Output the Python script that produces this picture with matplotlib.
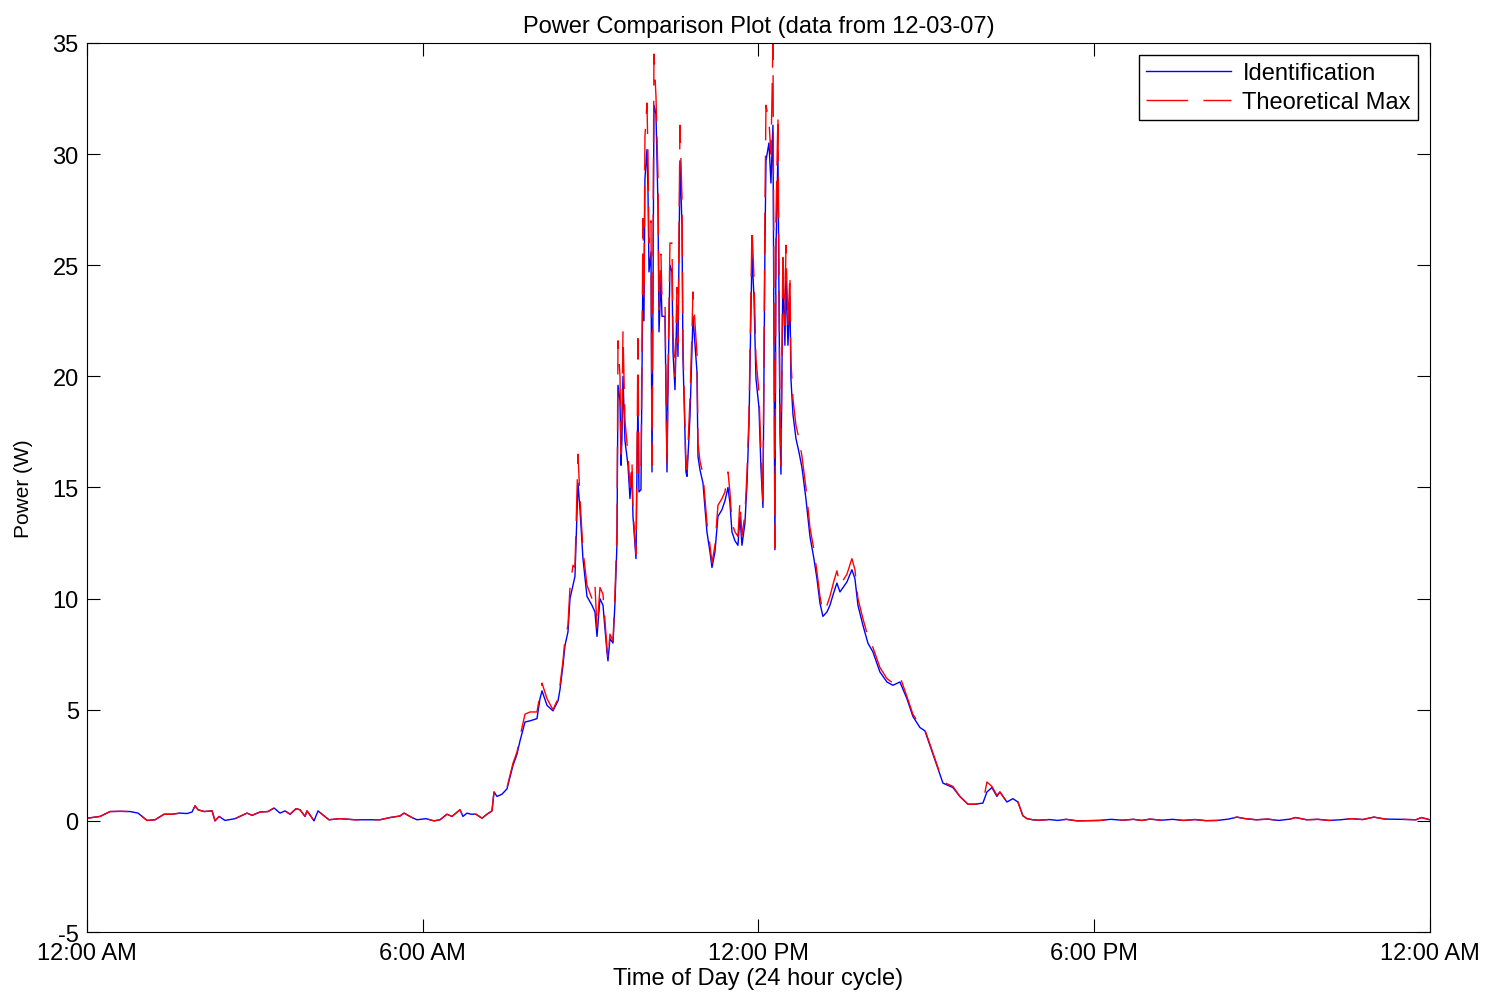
import numpy as np
import matplotlib.pyplot as plt

plt.rcParams['font.family'] = ['Liberation Sans', 'DejaVu Sans']
plt.rcParams['axes.unicode_minus'] = False

# time of day in hours
hours = [
    0.000, 0.232, 0.411, 0.590, 0.768, 0.911, 1.072, 1.215, 1.376, 1.519,
    1.662, 1.787, 1.876, 1.930, 1.984, 2.091, 2.234, 2.287, 2.359, 2.466,
    2.645, 2.859, 2.949, 3.092, 3.234, 3.342, 3.449, 3.538, 3.628, 3.735,
    3.806, 3.896, 3.931, 4.003, 4.056, 4.128, 4.199, 4.324, 4.521, 4.789,
    5.057, 5.236, 5.415, 5.593, 5.665, 5.808, 5.897, 6.058, 6.201, 6.308,
    6.433, 6.522, 6.594, 6.665, 6.719, 6.790, 6.862, 6.951, 7.059, 7.148,
    7.237, 7.273, 7.327, 7.416, 7.505, 7.613, 7.684, 7.738, 7.827, 7.916,
    8.041, 8.095, 8.131, 8.220, 8.327, 8.417, 8.452, 8.506, 8.542, 8.595,
    8.631, 8.685, 8.720, 8.774, 8.810, 8.863, 8.935, 9.024, 9.078, 9.114,
    9.167, 9.221, 9.292, 9.310, 9.346, 9.400, 9.435, 9.471, 9.489, 9.525,
    9.543, 9.560, 9.578, 9.614, 9.668, 9.703, 9.739, 9.757, 9.811, 9.828,
    9.846, 9.864, 9.900, 9.918, 9.936, 9.953, 9.971, 10.007, 10.025, 10.043,
    10.079, 10.097, 10.114, 10.132, 10.168, 10.204, 10.222, 10.257, 10.275, 10.329,
    10.365, 10.382, 10.418, 10.454, 10.472, 10.508, 10.543, 10.561, 10.597, 10.633,
    10.650, 10.704, 10.722, 10.776, 10.811, 10.829, 10.901, 10.919, 10.954, 11.008,
    11.079, 11.133, 11.169, 11.222, 11.276, 11.347, 11.401, 11.455, 11.490, 11.526,
    11.580, 11.633, 11.669, 11.705, 11.758, 11.794, 11.830, 11.884, 11.919, 11.955,
    12.009, 12.044, 12.080, 12.116, 12.134, 12.187, 12.223, 12.259, 12.294, 12.312,
    12.348, 12.384, 12.402, 12.437, 12.473, 12.491, 12.527, 12.562, 12.580, 12.616,
    12.670, 12.723, 12.777, 12.848, 12.920, 12.991, 13.045, 13.099, 13.152, 13.224,
    13.277, 13.349, 13.402, 13.456, 13.581, 13.670, 13.724, 13.778, 13.867, 13.956,
    14.046, 14.171, 14.296, 14.403, 14.528, 14.653, 14.760, 14.886, 14.975, 15.064,
    15.189, 15.297, 15.475, 15.600, 15.743, 15.868, 16.011, 16.083, 16.172, 16.262,
    16.315, 16.440, 16.547, 16.637, 16.726, 16.798, 16.905, 17.000, 17.200, 17.350,
    17.500, 17.700, 17.900, 18.100, 18.300, 18.500, 18.700, 18.850, 19.000, 19.200,
    19.400, 19.600, 19.800, 20.000, 20.200, 20.400, 20.550, 20.700, 20.900, 21.100,
    21.300, 21.500, 21.600, 21.800, 22.000, 22.200, 22.400, 22.600, 22.800, 23.000,
    23.200, 23.500, 23.750, 23.850, 24.000,
]

identification = [
    0.12, 0.20, 0.42, 0.43, 0.42, 0.35, 0.02, 0.05, 0.30, 0.30,
    0.35, 0.33, 0.40, 0.68, 0.50, 0.42, 0.45, 0.00, 0.20, 0.02,
    0.10, 0.35, 0.25, 0.40, 0.42, 0.58, 0.35, 0.45, 0.30, 0.55,
    0.50, 0.20, 0.45, 0.20, 0.00, 0.45, 0.30, 0.05, 0.10, 0.05,
    0.05, 0.05, 0.15, 0.22, 0.35, 0.15, 0.05, 0.10, 0.00, 0.05,
    0.30, 0.20, 0.35, 0.50, 0.20, 0.35, 0.30, 0.30, 0.12, 0.30,
    0.45, 1.30, 1.10, 1.20, 1.44, 2.50, 3.00, 3.60, 4.45, 4.50,
    4.60, 5.50, 5.85, 5.20, 4.95, 5.40, 5.90, 7.00, 7.90, 8.50,
    10.0, 10.6, 11.0, 15.2, 14.0, 11.8, 10.1, 9.70, 9.40, 8.30,
    10.0, 9.70, 7.60, 7.20, 8.20, 8.00, 9.80, 12.5, 19.6, 18.9,
    16.0, 17.2, 20.0, 17.1, 16.0, 14.5, 15.7, 13.7, 11.8, 15.7,
    19.0, 14.8, 14.9, 20.2, 25.3, 22.5, 28.9, 30.2, 28.4, 24.7,
    25.6, 15.7, 23.2, 32.2, 31.8, 27.7, 22.0, 24.4, 22.7, 22.7,
    15.7, 19.3, 25.0, 24.7, 21.1, 19.4, 23.2, 20.9, 29.7, 26.8,
    20.9, 15.7, 15.5, 18.2, 21.1, 22.7, 20.2, 16.4, 15.8, 15.2,
    13.0, 12.1, 11.4, 12.1, 13.7, 14.0, 14.4, 15.0, 14.3, 13.0,
    12.6, 12.4, 13.7, 12.4, 13.4, 15.1, 17.8, 25.5, 23.6, 19.9,
    18.6, 15.9, 14.1, 25.9, 29.7, 30.5, 28.7, 31.3, 12.2, 25.6,
    30.1, 17.5, 15.6, 24.8, 21.4, 24.5, 21.4, 23.6, 19.9, 18.3,
    17.2, 16.6, 15.9, 14.5, 12.8, 11.8, 10.9, 9.80, 9.20, 9.40,
    9.70, 10.3, 10.7, 10.3, 10.75, 11.3, 10.9, 9.70, 8.80, 8.00,
    7.60, 6.70, 6.25, 6.10, 6.25, 5.50, 4.70, 4.20, 4.05, 3.40,
    2.50, 1.70, 1.50, 1.10, 0.75, 0.75, 0.80, 1.30, 1.50, 1.10,
    1.30, 0.85, 1.00, 0.85, 0.23, 0.10, 0.05, 0.03, 0.06, 0.02,
    0.07, 0.00, 0.01, 0.02, 0.07, 0.03, 0.07, 0.02, 0.08, 0.03,
    0.07, 0.02, 0.06, 0.01, 0.02, 0.08, 0.17, 0.10, 0.05, 0.08,
    0.02, 0.08, 0.15, 0.05, 0.07, 0.02, 0.05, 0.10, 0.06, 0.17,
    0.08, 0.07, 0.05, 0.15, 0.05,
]

theoretical_max = [
    0.12, 0.20, 0.42, 0.43, 0.42, 0.35, 0.02, 0.05, 0.30, 0.30,
    0.35, 0.33, 0.40, 0.68, 0.50, 0.42, 0.45, 0.00, 0.20, 0.02,
    0.10, 0.35, 0.25, 0.40, 0.42, 0.58, 0.35, 0.45, 0.30, 0.55,
    0.50, 0.20, 0.45, 0.20, 0.00, 0.45, 0.30, 0.05, 0.10, 0.05,
    0.05, 0.05, 0.15, 0.22, 0.35, 0.15, 0.05, 0.10, 0.00, 0.05,
    0.30, 0.20, 0.35, 0.50, 0.20, 0.35, 0.30, 0.30, 0.12, 0.30,
    0.45, 1.30, 1.20, 1.30, 1.50, 2.60, 3.10, 3.80, 4.80, 4.90,
    4.90, 5.70, 6.20, 5.50, 5.00, 5.50, 6.10, 7.20, 8.20, 8.80,
    10.5, 11.5, 11.4, 16.5, 14.5, 12.2, 10.6, 10.0, 10.6, 8.60,
    10.5, 10.2, 7.80, 7.30, 8.40, 8.10, 10.2, 13.0, 21.6, 20.0,
    16.5, 18.0, 22.0, 18.0, 16.5, 15.0, 16.2, 14.0, 12.0, 16.2,
    21.7, 15.5, 15.5, 21.5, 27.1, 23.5, 30.8, 32.3, 30.0, 26.0,
    27.0, 16.0, 25.0, 34.5, 32.6, 29.0, 23.0, 25.5, 23.5, 23.5,
    16.0, 20.0, 26.0, 26.0, 22.0, 20.0, 24.0, 21.5, 31.3, 28.0,
    21.5, 16.0, 15.8, 19.0, 22.0, 23.8, 21.0, 17.0, 16.2, 15.6,
    13.4, 12.4, 11.6, 12.4, 14.2, 14.5, 14.8, 15.7, 14.8, 13.4,
    13.0, 12.8, 14.4, 12.8, 13.8, 15.6, 18.2, 26.7, 24.5, 20.8,
    19.3, 16.5, 14.4, 27.6, 32.2, 31.5, 30.0, 35.0, 12.3, 27.0,
    31.8, 18.2, 16.0, 25.7, 22.3, 25.9, 22.3, 24.6, 20.7, 19.0,
    17.8, 17.2, 16.4, 15.0, 13.2, 12.2, 11.2, 10.1, 9.40, 9.70,
    10.1, 10.8, 11.25, 10.6, 11.1, 11.8, 11.3, 10.0, 9.10, 8.30,
    7.80, 6.90, 6.40, 6.20, 6.50, 5.60, 4.80, 4.30, 4.10, 3.45,
    2.55, 1.75, 1.55, 1.10, 0.75, 0.75, 0.80, 1.75, 1.55, 1.15,
    1.30, 0.85, 1.00, 0.85, 0.23, 0.10, 0.05, 0.03, 0.06, 0.02,
    0.07, 0.00, 0.01, 0.02, 0.07, 0.03, 0.07, 0.02, 0.08, 0.03,
    0.07, 0.02, 0.06, 0.01, 0.02, 0.08, 0.17, 0.10, 0.05, 0.08,
    0.02, 0.08, 0.15, 0.05, 0.07, 0.02, 0.05, 0.10, 0.06, 0.17,
    0.08, 0.07, 0.05, 0.15, 0.05,
]

tick_hours = [0, 6, 12, 18, 24]
tick_labels = ['12:00 AM', '6:00 AM', '12:00 PM', '6:00 PM', '12:00 AM']

fig = plt.figure(figsize=(14.91, 9.95), dpi=100)
ax = fig.add_axes([0.0584, 0.0623, 0.9006, 0.8935])

ax.plot(hours, identification, color='b', lw=1.0, label='Identification')
ax.plot(hours, theoretical_max, color='r', lw=1.0, linestyle=(0, (30, 11)),
        label='Theoretical Max')

ax.set_xlim(0, 24)
ax.set_ylim(-5, 35)
ax.set_xticks(tick_hours)
ax.set_xticklabels(tick_labels)
ax.set_yticks(np.arange(-5, 36, 5))

ax.tick_params(direction='in', length=9.5, width=0.8, top=True, right=True,
               labelsize=17, pad=6)
ax.tick_params(axis='x', pad=7)
for sp in ax.spines.values():
    sp.set_linewidth(0.8)

ax.set_title('Power Comparison Plot (data from 12-03-07)', fontsize=17, pad=8)
ax.set_xlabel('Time of Day (24 hour cycle)', fontsize=17, labelpad=2)
ax.set_ylabel('Power (W)', fontsize=15, labelpad=14)

leg = ax.legend(loc='upper right', fontsize=17, fancybox=False, framealpha=1,
                edgecolor='k', handlelength=3.6, handletextpad=0.5,
                borderaxespad=0.5, borderpad=0.3, labelspacing=0.3)
leg.get_frame().set_linewidth(1.0)

fig.savefig('out.png', dpi=100)
